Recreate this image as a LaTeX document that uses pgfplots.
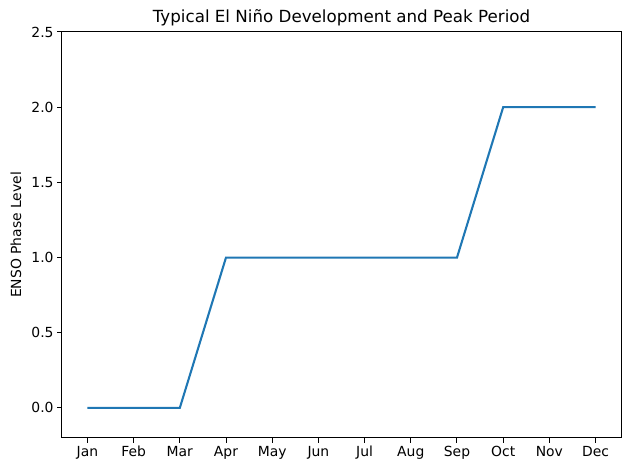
\documentclass[border=0pt]{standalone}
\usepackage{pgfplots}
\pgfplotsset{compat=1.18}
\usepackage{fontspec}
\setmainfont{DejaVu Sans}
\definecolor{mplblue}{HTML}{1F77B4}
\begin{document}
\begin{tikzpicture}[x=1pt,y=1pt]
\path[use as bounding box] (0,0) rectangle (630,470);
\begin{axis}[
  at={(62pt,32pt)}, anchor=south west,
  scale only axis, width=559pt, height=406pt,
  xmin=-0.55, xmax=11.55, ymin=-0.2, ymax=2.5,
  xtick={0,...,11},
  xticklabels={Jan,Feb,Mar,Apr,May,Jun,Jul,Aug,Sep,Oct,Nov,Dec},
  ytick={0,0.5,1,1.5,2,2.5},
  /pgf/number format/assume math mode=true,
  yticklabel style={/pgf/number format/fixed,/pgf/number format/fixed zerofill,/pgf/number format/precision=1},
  tick label style={font=\fontsize{13.9}{16}\selectfont},
  tick align=outside, tick pos=left,
  major tick length=4.9pt,
  every tick/.style={black,line width=1.0pt},
  axis line style={line width=1.0pt},
  ylabel={ENSO Phase Level},
  ylabel style={font=\fontsize{13.9}{16}\selectfont, at={(axis description cs:-0.0823,0.5)}, anchor=center},
  title={Typical El Niño Development and Peak Period},
  title style={font=\fontsize{16.7}{20}\selectfont, at={(axis description cs:0.5,1)}, anchor=center, yshift=8pt},
]
\addplot[mplblue, line width=2.08pt, mark=none] coordinates {
(0,0) (1,0) (2,0) (3,1) (4,1) (5,1) (6,1) (7,1) (8,1) (9,2) (10,2) (11,2)
};
\end{axis}
\end{tikzpicture}
\end{document}
